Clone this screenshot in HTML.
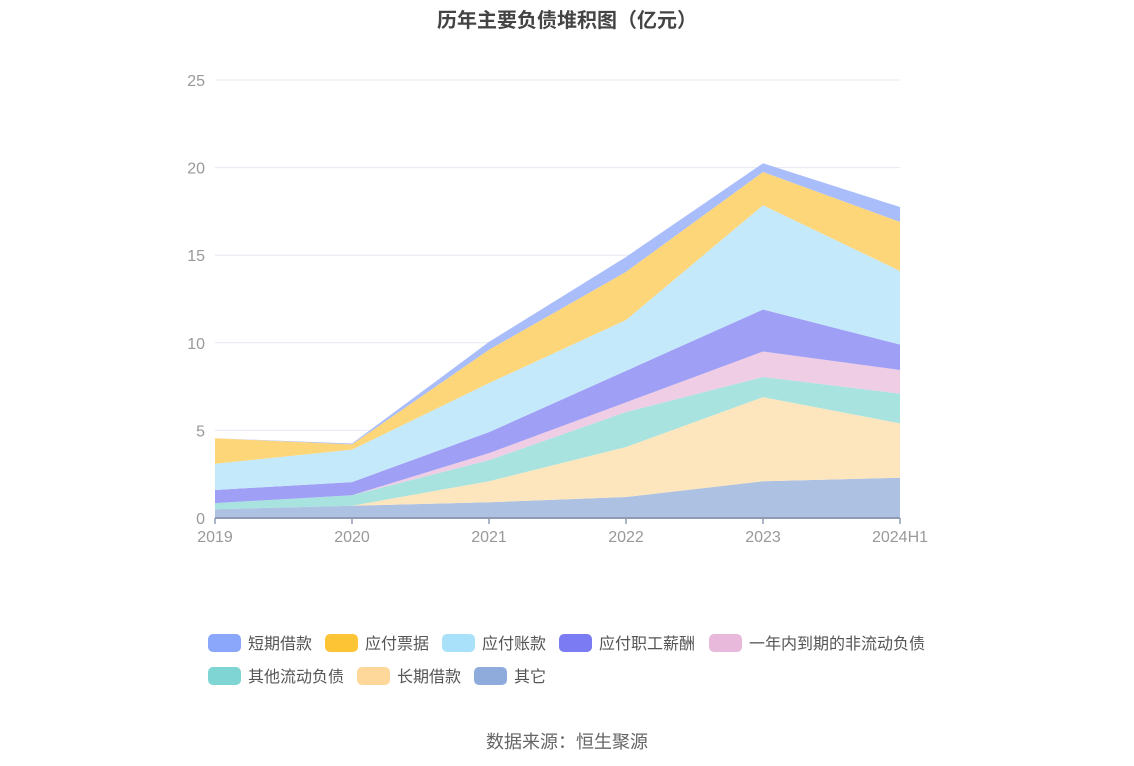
<!DOCTYPE html>
<html><head><meta charset="utf-8"><style>
body{margin:0;background:#fff;font-family:"Liberation Sans","Noto Sans CJK SC",sans-serif;}
#wrap{position:relative;width:1134px;height:766px;overflow:hidden;}
.t{position:absolute;white-space:nowrap;}
</style></head><body>
<div id="wrap">
<div class="t" style="left:0;width:1134px;text-align:center;top:4px;font-size:20px;font-weight:bold;color:#444;">历年主要负债堆积图（亿元）</div>
<svg id="chart" width="1134" height="766" style="position:absolute;left:0;top:0"></svg>
<div class="t" style="left:0;width:1134px;text-align:center;top:728px;font-size:18px;color:#666;">数据来源：恒生聚源</div>
</div>
<script>
const categories=["2019","2020","2021","2022","2023","2024H1"];
const seriesNames=["其它","长期借款","其他流动负债","一年内到期的非流动负债","应付职工薪酬","应付账款","应付票据","短期借款"];
const s_other=[0.5,0.7,0.9,1.2,2.1,2.3];
const s_longloan=[0,0,1.2,2.85,4.8,3.1];
const s_othercur=[0.35,0.6,1.2,2.0,1.15,1.7];
const s_oneyear=[0,0,0.4,0.55,1.45,1.35];
const s_salary=[0.75,0.75,1.2,1.8,2.4,1.45];
const s_payable=[1.5,1.85,2.8,2.9,5.95,4.2];
const s_notes=[1.45,0.3,1.9,2.75,1.9,2.8];
const s_short=[0,0.05,0.45,0.85,0.5,0.85];
const yTicks=[0,5,10,15,20,25];
const series=[s_other,s_longloan,s_othercur,s_oneyear,s_salary,s_payable,s_notes,s_short];
const colors=["#8eabdb","#fed89a","#7fd4d4","#e8b9db","#7b7bf4","#a9e1fb","#fdc435","#8ba7fb"];
const areaColors=["#adc2e2","#fde6bd","#a8e3e0","#efcde5","#a09ff6","#c4e9fb","#fed67a","#a9bdfb"];
const NS="http://www.w3.org/2000/svg";
const svg=document.getElementById('chart');
const x0=215,x1=900,y0=518,y1=80;
const xs=i=>x0+(x1-x0)*i/(categories.length-1);
const ys=v=>y0-(y0-y1)*v/25;
function mk(t,a){const e=document.createElementNS(NS,t);for(const k in a)e.setAttribute(k,a[k]);svg.appendChild(e);return e;}
yTicks.forEach(v=>{
 const l=mk('line',{x1:x0,x2:x1,y1:ys(v),y2:ys(v),stroke:'#e6e8f0','stroke-width':1});
 
 
 const t=mk('text',{x:205,y:ys(v)+6,'text-anchor':'end','font-size':16,fill:'#999'});
 t.textContent=v;
 
 
});
let base=categories.map(()=>0);
series.forEach((s,k)=>{
 const top=base.map((b,i)=>b+s[i]);
 let d='M'+top.map((v,i)=>xs(i)+','+ys(v)).join(' L');
 for(let i=categories.length-1;i>=0;i--)d+=' L'+xs(i)+','+ys(base[i]);
 const p=mk('path',{d:d+'Z',fill:areaColors[k]});
 
 
 base=top;
});
const ax=mk('line',{x1:x0,x2:x1,y1:y0,y2:y0,stroke:'#8f9bb3','stroke-width':2});


categories.forEach((c,i)=>{
 const tk=mk('line',{x1:xs(i),x2:xs(i),y1:y0,y2:y0+6,stroke:'#8f9bb3','stroke-width':1.5});
 
 
 const t=mk('text',{x:xs(i),y:542,'text-anchor':'middle','font-size':16,fill:'#999'});
 t.textContent=c;
 
 
});
const legendOrder=[7,6,5,4,3,2,1,0];
const legendPos=[[208,643],[325,643],[442,643],[559,643],[709,643],[208,676],[357,676],[474,676]];
legendOrder.forEach((k,j)=>{
 const [lx,ly]=legendPos[j];
 const r=mk('rect',{x:lx,y:ly-9,width:33,height:18,rx:5,fill:colors[k]});
 
 
 const t=mk('text',{x:lx+40,y:ly+6,'font-size':16,fill:'#555'});
 t.textContent=seriesNames[k];
 
 
});
</script>
</body></html>
